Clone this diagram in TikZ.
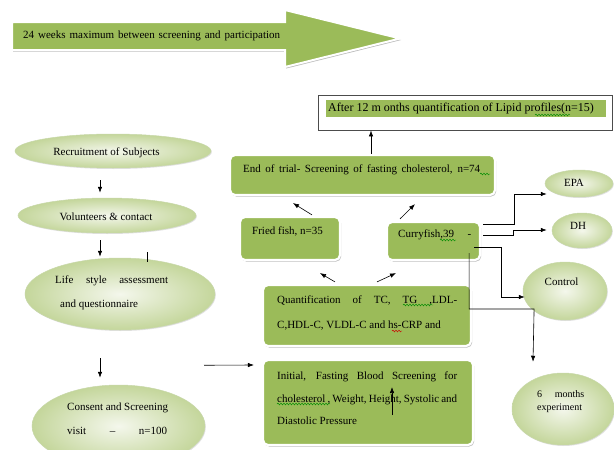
\documentclass[tikz,border=0pt]{standalone}
\usepackage{fontspec}
\setmainfont{Liberation Serif}
\usetikzlibrary{shapes.geometric,shadows,arrows.meta,decorations.pathmorphing,calc}
\definecolor{boxg}{RGB}{155,187,89}
\definecolor{elin}{RGB}{244,247,236}
\definecolor{elout}{RGB}{196,214,155}
\definecolor{elbd}{RGB}{200,216,170}
\begin{document}
\begin{tikzpicture}[x=1pt,y=-1pt,
  gbox/.style={rectangle, rounded corners=5pt, fill=boxg, draw=white, line width=2.2pt,
    drop shadow={shadow xshift=1.2pt,shadow yshift=-1.5pt,fill=black!45,opacity=0.6}, inner sep=0pt},
  ell/.style={ellipse, inner sep=0pt, draw=elbd, line width=0.5pt, inner color=elin, outer color=elout,
    drop shadow={shadow xshift=0.8pt,shadow yshift=-1pt,fill=black!30,opacity=0.4}},
  txt/.style={anchor=base west, inner sep=0pt, font=\fontsize{11}{13}\selectfont},
  ctxt/.style={anchor=base, inner sep=0pt, font=\fontsize{11}{13}\selectfont},
  arr/.style={-{Latex[length=6pt,width=4.5pt]}, line width=0.6pt},
  ln/.style={line width=0.6pt},
  sq/.style={decorate, decoration={snake, amplitude=0.9pt, segment length=3pt}, line width=0.45pt, draw=green!55!black},
  sqr/.style={sq, draw=red!80!black}]
\useasboundingbox (0,0) rectangle (614,450);

% big arrow
\path[fill=boxg, draw=white, line width=2pt,
  drop shadow={shadow xshift=1.2pt,shadow yshift=-1.5pt,fill=black!45,opacity=0.6}]
  (12,22) -- (285,22) -- (285,10) -- (400,38.5) -- (285,67) -- (285,50) -- (12,50) -- cycle;
\node[txt] (t0) at (23,38) {\makebox[257pt][s]{24 weeks maximum between screening and participation}};

% after box
\node[draw=black!70, line width=0.9pt, fill=white, minimum width=294pt, minimum height=35pt, inner sep=0pt] (after) at (465,112.5) {};
\node[fill=boxg, minimum width=280pt, minimum height=17pt, inner sep=0pt] (afterin) at (466,108.5) {};
\node[txt, font=\fontsize{12}{14}\selectfont] (t1) at (328,111) {After 12 m onths quantification of Lipid profiles(n=15)};

% green boxes
\node[gbox, minimum width=265pt, minimum height=40pt] (endtrial) at (362.5,175) {};
\node[gbox, minimum width=100pt, minimum height=43pt] (fried) at (290,238.5) {};
\node[gbox, minimum width=93pt, minimum height=38pt] (curry) at (433.5,241) {};
\node[gbox, minimum width=208pt, minimum height=61pt] (quant) at (367,315.5) {};
\node[gbox, minimum width=210pt, minimum height=85pt] (initial) at (368,402.5) {};

\node[txt] (t2) at (243,172) {\makebox[237pt][s]{End of trial- Screening of fasting cholesterol, n=74}};
\node[txt] (t3) at (252,234) {Fried fish, n=35};
\node[txt] (t4) at (398,237) {\makebox[73pt][l]{Curryfish,39\hfill-}};
\node[txt] (t5) at (277,303) {\makebox[180pt][s]{Quantification of TC, TG ,LDL-}};
\node[txt] (t6) at (277,328) {C,HDL-C, VLDL-C and hs-CRP and};
\node[txt] (t7) at (277,379) {\makebox[180pt][s]{Initial, Fasting Blood Screening for}};
\node[txt] (t8) at (277,402) {\makebox[180pt][s]{cholesterol , Weight, Height, Systolic and}};
\node[txt] (t9) at (277,424) {Diastolic Pressure};

% ellipses
\node[ell, minimum width=196pt, minimum height=34pt] (recruit) at (113,151) {};
\node[ell, minimum width=178pt, minimum height=35pt] (volunteer) at (107,215.5) {};
\node[ell, minimum width=190pt, minimum height=72pt] (life) at (120,294) {};
\node[ell, minimum width=173pt, minimum height=82pt] (consent) at (118.5,426) {};
\node[ell, minimum width=68pt, minimum height=27pt] (epa) at (579,183.5) {};
\node[ell, minimum width=60pt, minimum height=35pt] (dh) at (582,230.5) {};
\node[ell, minimum width=84pt, minimum height=58pt] (control) at (565,291) {};
\node[ell, minimum width=102pt, minimum height=72pt] (six) at (563,409) {};

\node[ctxt] (e1) at (106.5,155) {Recruitment of Subjects};
\node[ctxt] (e2) at (106,220) {Volunteers \& contact};
\node[txt] (e3) at (55,283) {\makebox[113pt][s]{Life style assessment}};
\node[txt] (e4) at (60,307) {and questionnaire};
\node[txt] (e5) at (67,410) {\makebox[101pt][s]{Consent and Screening}};
\node[txt] (e6) at (67,434) {\makebox[100pt][s]{visit – n=100}};
\node[ctxt] (e7) at (574,186) {EPA};
\node[ctxt] (e8) at (578,229) {DH};
\node[ctxt] (e9) at (561.5,285) {Control};
\node[txt, font=\fontsize{10}{12}\selectfont] (e10) at (537,397) {\makebox[47pt][s]{6 months}};
\node[txt, font=\fontsize{10}{12}\selectfont] (e11) at (537,410) {experiment};

% spelling marks
\draw[sq] (535,115) -- (570,115);
\draw[sq] (480,174) -- (490,174);
\draw[sq] (440,240) -- (456,240);
\draw[sq] (403,305) -- (433,305);
\draw[sqr] (392,331) -- (402,331);
\draw[sq] (277,404) -- (330,404);

% connectors
\draw[arr] ([xshift=8.5pt]endtrial.north) -- ([xshift=8.5pt]endtrial.north |- after.south);
\draw[arr] ($(fried.north)+(22,-1)$) -- ($(endtrial.south)+(-69.5,7)$);
\draw[arr] ($(curry.north)+(-33.5,-2)$) -- ($(endtrial.south)+(52.5,8)$);
\draw[arr] ($(quant.north)+(-32,-2)$) -- ($(fried.south)+(30,12)$);
\draw[arr] ($(quant.north)+(10,-2)$) -- ($(curry.south)+(-37.5,12)$);
\draw[arr] ($(curry.east)+(2,-17)$) -- ++(31,0) |- ($(epa.west)+(2,10.5)$);
\draw[arr] ($(curry.east)+(2,-6)$) -- ++(30,0) |- ($(dh.west)+(-5,-0.5)$);
\draw[arr] ($(curry.east)+(-7,6)$) -- ++(27,0) |- ($(control.west)+(2,6)$);
\draw[arr] ($(curry.east)+(-12,12)$) -- ++(0,56) -- ++(65,0) -- ($(six.north)+(-30,-11)$);

\draw[arr] ($(recruit.south)+(-13,12)$) -- ($(volunteer.north)+(-7,-5)$);
\draw[arr] ($(volunteer.south)+(-7,7)$) -- ($(life.north)+(-20,-1)$);
\draw[arr] ($(life.south)+(-20,28)$) -- ($(consent.north)+(-18.5,-7)$);
\draw[ln] ($(volunteer.south)+(40,19)$) -- ++(0,10);
\draw[arr] ($(life.south)+(84,35)$) -- ($(initial.west)+(-8,-37.5)$);
\draw[arr] ($(initial.center)+(24,12.5)$) -- ($(initial.center)+(24,-15.5)$);
\end{tikzpicture}
\end{document}
